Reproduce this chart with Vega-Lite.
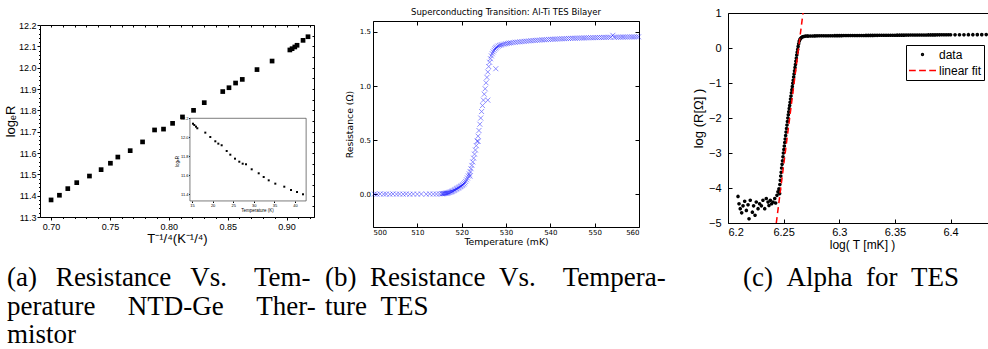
{
 "$schema": "https://vega.github.io/schema/vega-lite/v6.json",
 "padding": {"left": 3, "top": 0, "right": 0, "bottom": 0},
 "background": "white",
 "config": {
  "view": {"stroke": "black", "strokeWidth": 1},
  "axis": {"grid": false, "domain": false, "tickColor": "black", "labelColor": "black", "titleColor": "black", "titleFontWeight": "normal", "labelOverlap": false},
  "title": {"color": "black", "fontWeight": "normal"}
 },
 "datasets": {
  "aMain": [
   {"t14":0.700,"lnR":11.380},{"t14":0.7071,"lnR":11.402},{"t14":0.7142,"lnR":11.433},{"t14":0.7218,"lnR":11.461},
   {"t14":0.7326,"lnR":11.492},{"t14":0.7425,"lnR":11.522},{"t14":0.7504,"lnR":11.552},{"t14":0.7567,"lnR":11.581},
   {"t14":0.7672,"lnR":11.611},{"t14":0.7777,"lnR":11.652},{"t14":0.7879,"lnR":11.708},{"t14":0.7955,"lnR":11.712},
   {"t14":0.8032,"lnR":11.739},{"t14":0.8116,"lnR":11.769},{"t14":0.8210,"lnR":11.800},{"t14":0.8301,"lnR":11.836},
   {"t14":0.8458,"lnR":11.888},{"t14":0.8511,"lnR":11.906},{"t14":0.8567,"lnR":11.928},{"t14":0.8624,"lnR":11.945},
   {"t14":0.8749,"lnR":11.991},{"t14":0.8877,"lnR":12.031},{"t14":0.9028,"lnR":12.083},{"t14":0.9047,"lnR":12.089},
   {"t14":0.9070,"lnR":12.097},{"t14":0.9089,"lnR":12.105},{"t14":0.9140,"lnR":12.128},{"t14":0.9182,"lnR":12.145}
  ],
  "aInset": [
   {"T":15.24,"lnR":12.143},{"T":15.56,"lnR":12.129},{"T":15.97,"lnR":12.112},{"T":16.29,"lnR":12.095},
   {"T":18.23,"lnR":12.049},{"T":19.44,"lnR":12.003},{"T":20.66,"lnR":11.958},{"T":21.39,"lnR":11.933},
   {"T":22.20,"lnR":11.916},{"T":23.42,"lnR":11.856},{"T":24.30,"lnR":11.817},{"T":25.44,"lnR":11.775},
   {"T":26.48,"lnR":11.743},{"T":27.30,"lnR":11.722},{"T":28.11,"lnR":11.716},{"T":29.49,"lnR":11.663},
   {"T":31.19,"lnR":11.621},{"T":32.40,"lnR":11.582},{"T":33.62,"lnR":11.547},{"T":35.22,"lnR":11.512},
   {"T":37.40,"lnR":11.480},{"T":39.03,"lnR":11.445},{"T":40.49,"lnR":11.424},{"T":41.94,"lnR":11.400}
  ],
  "b": [
   {"T":500.3,"R":0.004},{"T":500.9,"R":0.002},{"T":501.6,"R":0.005},{"T":502.4,"R":0.003},{"T":503.0,"R":0.004},
   {"T":503.8,"R":0.002},{"T":504.5,"R":0.005},{"T":505.3,"R":0.003},{"T":506.0,"R":0.004},{"T":506.8,"R":0.003},
   {"T":507.5,"R":0.005},{"T":508.3,"R":0.002},{"T":509.1,"R":0.004},{"T":510.0,"R":0.003},{"T":510.9,"R":0.004},
   {"T":512.0,"R":0.003},{"T":512.8,"R":0.005},{"T":513.6,"R":0.004},{"T":514.3,"R":0.004},{"T":515.0,"R":0.005},
   {"T":515.5,"R":0.006},{"T":515.7,"R":0.007},{"T":515.9,"R":0.008},{"T":516.1,"R":0.009},{"T":516.3,"R":0.010},
   {"T":516.5,"R":0.012},{"T":516.7,"R":0.013},{"T":516.9,"R":0.015},{"T":517.1,"R":0.018},{"T":517.3,"R":0.020},
   {"T":517.5,"R":0.023},{"T":517.7,"R":0.026},{"T":517.9,"R":0.030},{"T":518.1,"R":0.034},{"T":518.3,"R":0.038},
   {"T":518.5,"R":0.043},{"T":518.7,"R":0.048},{"T":518.9,"R":0.053},{"T":519.1,"R":0.058},{"T":519.3,"R":0.062},
   {"T":519.5,"R":0.068},{"T":519.7,"R":0.073},{"T":519.9,"R":0.078},{"T":520.1,"R":0.084},{"T":520.3,"R":0.090},
   {"T":520.5,"R":0.098},{"T":520.7,"R":0.108},{"T":520.9,"R":0.120},{"T":521.1,"R":0.135},{"T":521.3,"R":0.152},
   {"T":521.5,"R":0.170},{"T":521.7,"R":0.190},{"T":521.9,"R":0.212},{"T":522.1,"R":0.238},{"T":522.3,"R":0.268},
   {"T":522.5,"R":0.300},{"T":522.7,"R":0.335},{"T":522.9,"R":0.372},{"T":523.1,"R":0.410},{"T":523.3,"R":0.450},
   {"T":523.5,"R":0.492},{"T":523.7,"R":0.538},{"T":523.9,"R":0.590},{"T":524.1,"R":0.648},{"T":524.3,"R":0.705},
   {"T":524.5,"R":0.765},{"T":524.7,"R":0.820},{"T":524.9,"R":0.870},{"T":525.1,"R":0.925},{"T":525.3,"R":0.975},
   {"T":525.5,"R":1.030},{"T":525.7,"R":1.080},{"T":525.9,"R":1.130},{"T":526.1,"R":1.180},{"T":526.3,"R":1.220},
   {"T":526.5,"R":1.252},{"T":526.7,"R":1.278},{"T":526.9,"R":1.298},{"T":527.1,"R":1.315},{"T":527.3,"R":1.330},
   {"T":527.5,"R":1.343},{"T":527.7,"R":1.352},{"T":527.9,"R":1.360},{"T":528.2,"R":1.368},{"T":528.5,"R":1.374},
   {"T":528.8,"R":1.378},{"T":529.1,"R":1.382},{"T":529.5,"R":1.386},{"T":529.9,"R":1.390},{"T":530.3,"R":1.393},
   {"T":530.7,"R":1.396},{"T":531.1,"R":1.399},{"T":531.6,"R":1.401},{"T":532.1,"R":1.404},{"T":532.6,"R":1.406},
   {"T":533.1,"R":1.408},{"T":533.6,"R":1.410},{"T":534.1,"R":1.412},{"T":534.6,"R":1.414},{"T":535.1,"R":1.416},
   {"T":535.6,"R":1.418},{"T":536.1,"R":1.420},{"T":536.6,"R":1.421},{"T":537.1,"R":1.423},{"T":537.6,"R":1.424},
   {"T":538.1,"R":1.426},{"T":538.6,"R":1.427},{"T":539.1,"R":1.428},{"T":539.6,"R":1.430},{"T":540.1,"R":1.431},
   {"T":540.6,"R":1.432},{"T":541.1,"R":1.433},{"T":541.6,"R":1.434},{"T":542.1,"R":1.435},{"T":542.6,"R":1.436},
   {"T":543.1,"R":1.437},{"T":543.6,"R":1.438},{"T":544.1,"R":1.439},{"T":544.6,"R":1.440},{"T":545.1,"R":1.441},
   {"T":545.6,"R":1.441},{"T":546.1,"R":1.442},{"T":546.6,"R":1.443},{"T":547.1,"R":1.443},{"T":547.6,"R":1.444},
   {"T":548.1,"R":1.445},{"T":548.6,"R":1.445},{"T":549.1,"R":1.446},{"T":549.6,"R":1.446},{"T":550.1,"R":1.447},
   {"T":550.6,"R":1.447},{"T":551.1,"R":1.448},{"T":551.6,"R":1.448},{"T":552.1,"R":1.449},{"T":552.6,"R":1.449},
   {"T":553.1,"R":1.450},{"T":553.6,"R":1.450},{"T":554.1,"R":1.468},{"T":554.4,"R":1.450},{"T":554.9,"R":1.451},
   {"T":555.4,"R":1.451},{"T":555.9,"R":1.451},{"T":556.4,"R":1.452},{"T":556.9,"R":1.452},{"T":557.4,"R":1.452},
   {"T":557.9,"R":1.453},{"T":558.4,"R":1.453},{"T":558.9,"R":1.453},{"T":559.4,"R":1.454},{"T":559.9,"R":1.454},
   {"T":527.7,"R":1.16},{"T":525.9,"R":0.87},{"T":523.7,"R":0.49},{"T":521.9,"R":0.17}
  ],
  "c": [
   {"lT":6.2090,"lR":-4.24},{"lT":6.2099,"lR":-4.45},{"lT":6.2110,"lR":-4.59},{"lT":6.2123,"lR":-4.71},{"lT":6.2135,"lR":-4.51},
   {"lT":6.2150,"lR":-4.38},{"lT":6.2165,"lR":-4.64},{"lT":6.2180,"lR":-4.48},{"lT":6.2189,"lR":-4.88},{"lT":6.2200,"lR":-4.35},
   {"lT":6.2219,"lR":-4.69},{"lT":6.2230,"lR":-4.51},{"lT":6.2243,"lR":-4.78},{"lT":6.2254,"lR":-4.40},{"lT":6.2270,"lR":-4.59},
   {"lT":6.2284,"lR":-4.45},{"lT":6.2300,"lR":-4.51},{"lT":6.2314,"lR":-4.35},{"lT":6.2330,"lR":-4.59},{"lT":6.2344,"lR":-4.30},
   {"lT":6.2360,"lR":-4.40},{"lT":6.2368,"lR":-4.50},{"lT":6.2380,"lR":-4.35},{"lT":6.2392,"lR":-4.45},{"lT":6.2404,"lR":-4.40},
   {"lT":6.2420,"lR":-4.30},{"lT":6.2428,"lR":-4.43},{"lT":6.2440,"lR":-4.21},{"lT":6.2449,"lR":-4.11},{"lT":6.2458,"lR":-4.02},
   {"lT":6.2464,"lR":-4.16},
   {"lT":6.2462,"lR":-4.05},{"lT":6.2466,"lR":-3.90},{"lT":6.2470,"lR":-3.78},{"lT":6.2474,"lR":-3.66},{"lT":6.2478,"lR":-3.55},
   {"lT":6.2482,"lR":-3.43},{"lT":6.2486,"lR":-3.32},{"lT":6.2490,"lR":-3.22},{"lT":6.2494,"lR":-3.11},{"lT":6.2498,"lR":-3.00},
   {"lT":6.2502,"lR":-2.90},{"lT":6.2506,"lR":-2.80},{"lT":6.2510,"lR":-2.70},{"lT":6.2514,"lR":-2.60},{"lT":6.2518,"lR":-2.50},
   {"lT":6.2522,"lR":-2.40},{"lT":6.2526,"lR":-2.30},{"lT":6.2530,"lR":-2.20},{"lT":6.2534,"lR":-2.10},{"lT":6.2538,"lR":-2.00},
   {"lT":6.2542,"lR":-1.91},{"lT":6.2546,"lR":-1.82},{"lT":6.2550,"lR":-1.73},{"lT":6.2554,"lR":-1.64},{"lT":6.2558,"lR":-1.55},
   {"lT":6.2562,"lR":-1.46},{"lT":6.2566,"lR":-1.37},{"lT":6.2570,"lR":-1.28},{"lT":6.2574,"lR":-1.19},{"lT":6.2578,"lR":-1.10},
   {"lT":6.2582,"lR":-1.01},{"lT":6.2586,"lR":-0.92},{"lT":6.2590,"lR":-0.83},{"lT":6.2594,"lR":-0.74},{"lT":6.2598,"lR":-0.65},
   {"lT":6.2602,"lR":-0.56},{"lT":6.2606,"lR":-0.47},{"lT":6.2610,"lR":-0.38},{"lT":6.2614,"lR":-0.29},{"lT":6.2618,"lR":-0.20},
   {"lT":6.2622,"lR":-0.12},{"lT":6.2626,"lR":-0.04},{"lT":6.2630,"lR":0.04},{"lT":6.2635,"lR":0.12},{"lT":6.2640,"lR":0.19},
   {"lT":6.2646,"lR":0.24},{"lT":6.2652,"lR":0.27},{"lT":6.2660,"lR":0.30},{"lT":6.2670,"lR":0.32},{"lT":6.2680,"lR":0.33},
   {"lT":6.2695,"lR":0.34},{"lT":6.2710,"lR":0.345},
   {"lT":6.272,"lR":0.340},{"lT":6.274,"lR":0.343},{"lT":6.276,"lR":0.345},{"lT":6.278,"lR":0.346},{"lT":6.280,"lR":0.347},
   {"lT":6.282,"lR":0.348},{"lT":6.284,"lR":0.349},{"lT":6.286,"lR":0.350},{"lT":6.288,"lR":0.350},{"lT":6.290,"lR":0.351},
   {"lT":6.292,"lR":0.352},{"lT":6.294,"lR":0.352},{"lT":6.296,"lR":0.353},{"lT":6.298,"lR":0.353},{"lT":6.300,"lR":0.354},
   {"lT":6.302,"lR":0.354},{"lT":6.304,"lR":0.355},{"lT":6.306,"lR":0.355},{"lT":6.308,"lR":0.356},{"lT":6.310,"lR":0.356},
   {"lT":6.312,"lR":0.357},{"lT":6.314,"lR":0.357},{"lT":6.316,"lR":0.358},{"lT":6.318,"lR":0.358},{"lT":6.320,"lR":0.359},
   {"lT":6.322,"lR":0.359},{"lT":6.324,"lR":0.360},{"lT":6.326,"lR":0.360},{"lT":6.328,"lR":0.361},{"lT":6.330,"lR":0.361},
   {"lT":6.332,"lR":0.362},{"lT":6.334,"lR":0.362},{"lT":6.336,"lR":0.363},{"lT":6.338,"lR":0.363},{"lT":6.340,"lR":0.364},
   {"lT":6.342,"lR":0.364},{"lT":6.344,"lR":0.365},{"lT":6.346,"lR":0.365},{"lT":6.348,"lR":0.366},{"lT":6.350,"lR":0.366},
   {"lT":6.352,"lR":0.367},{"lT":6.354,"lR":0.367},{"lT":6.356,"lR":0.368},{"lT":6.358,"lR":0.368},{"lT":6.360,"lR":0.369},
   {"lT":6.362,"lR":0.369},{"lT":6.364,"lR":0.370},{"lT":6.366,"lR":0.370},{"lT":6.368,"lR":0.371},{"lT":6.370,"lR":0.371},
   {"lT":6.372,"lR":0.372},{"lT":6.374,"lR":0.372},{"lT":6.376,"lR":0.373},{"lT":6.378,"lR":0.373},{"lT":6.380,"lR":0.374},
   {"lT":6.382,"lR":0.374},{"lT":6.384,"lR":0.375},{"lT":6.386,"lR":0.375},{"lT":6.388,"lR":0.376},{"lT":6.390,"lR":0.376},
   {"lT":6.392,"lR":0.377},{"lT":6.394,"lR":0.377},{"lT":6.396,"lR":0.378},{"lT":6.398,"lR":0.378},{"lT":6.400,"lR":0.379},
   {"lT":6.404,"lR":0.379},{"lT":6.408,"lR":0.380},{"lT":6.412,"lR":0.380},{"lT":6.416,"lR":0.381},{"lT":6.420,"lR":0.381},
   {"lT":6.424,"lR":0.382},{"lT":6.428,"lR":0.382},{"lT":6.432,"lR":0.383},{"lT":6.435,"lR":0.383}
  ],
  "cfit": [{"lT":6.2434,"lR":-5},{"lT":6.2674,"lR":1}]
 },
 "vconcat": [
  {
   "hconcat": [
    {
     "hconcat": [
      {
       "vconcat": [
        {"width": 1, "height": 19.5, "view": {"stroke": null}, "data": {"values": [{}]}, "mark": {"type": "point", "opacity": 0}},
        {
         "width": 274, "height": 192,
         "layer": [
          {
           "data": {"name": "aMain"},
           "mark": {"type": "square", "size": 22, "color": "black", "opacity": 1},
           "encoding": {
            "x": {"field": "t14", "type": "quantitative", "scale": {"domain": [0.6906, 0.9233], "nice": false, "zero": false},
                  "axis": {"orient": "bottom", "values": [0.7, 0.75, 0.8, 0.85, 0.9], "format": ".2f", "title": "T⁻¹/⁴(K⁻¹/⁴)",
                           "labelFont": "Liberation Sans", "labelFontSize": 9, "tickSize": 3, "labelPadding": 2,
                           "titleFont": "Liberation Sans", "titleFontSize": 13, "titlePadding": 1}},
            "y": {"field": "lnR", "type": "quantitative", "scale": {"domain": [11.3, 12.2], "nice": false, "zero": false},
                  "axis": {"orient": "left", "values": [11.3, 11.4, 11.5, 11.6, 11.7, 11.8, 11.9, 12.0, 12.1, 12.2], "format": ".1f", "title": "logₑR",
                           "labelFont": "Liberation Sans", "labelFontSize": 9, "tickSize": 3, "labelPadding": 1,
                           "titleFont": "Liberation Sans", "titleFontSize": 13, "titlePadding": 1}}
           }
          },
          {
           "data": {"name": "aMain"},
           "mark": {"type": "point", "opacity": 0},
           "encoding": {
            "x": {"field": "t14", "type": "quantitative", "scale": {"domain": [0.6906, 0.9233], "nice": false, "zero": false},
                  "axis": {"orient": "top", "values": [0.7, 0.71, 0.72, 0.73, 0.74, 0.75, 0.76, 0.77, 0.78, 0.79, 0.8, 0.81, 0.82, 0.83, 0.84, 0.85, 0.86, 0.87, 0.88, 0.89, 0.9, 0.91, 0.92], "labels": false, "title": null, "tickSize": -2}},
            "y": {"field": "lnR", "type": "quantitative", "scale": {"domain": [11.3, 12.2], "nice": false, "zero": false},
                  "axis": {"orient": "right", "values": [11.3, 11.35, 11.4, 11.45, 11.5, 11.55, 11.6, 11.65, 11.7, 11.75, 11.8, 11.85, 11.9, 11.95, 12.0, 12.05, 12.1, 12.15, 12.2], "labels": false, "title": null, "tickSize": -2}}
           }
          },
          {
           "data": {"name": "aMain"},
           "mark": {"type": "point", "opacity": 0},
           "encoding": {
            "x": {"field": "t14", "type": "quantitative", "scale": {"domain": [0.6906, 0.9233], "nice": false, "zero": false},
                  "axis": {"orient": "bottom", "values": [0.71, 0.72, 0.73, 0.74, 0.76, 0.77, 0.78, 0.79, 0.81, 0.82, 0.83, 0.84, 0.86, 0.87, 0.88, 0.89, 0.91, 0.92], "labels": false, "title": null, "tickSize": 1.5}},
            "y": {"field": "lnR", "type": "quantitative", "scale": {"domain": [11.3, 12.2], "nice": false, "zero": false},
                  "axis": {"orient": "left", "values": [11.32, 11.34, 11.36, 11.38, 11.42, 11.44, 11.46, 11.48, 11.52, 11.54, 11.56, 11.58, 11.62, 11.64, 11.66, 11.68, 11.72, 11.74, 11.76, 11.78, 11.82, 11.84, 11.86, 11.88, 11.92, 11.94, 11.96, 11.98, 12.02, 12.04, 12.06, 12.08, 12.12, 12.14, 12.16, 12.18], "labels": false, "title": null, "tickSize": 1.5}}
           }
          },
          {
           "layer": [
            {
             "data": {"values": [{}]},
             "mark": {"type": "rect", "fill": "white", "stroke": "#444444", "strokeWidth": 0.7},
             "encoding": {
              "x": {"datum": 14.5, "type": "quantitative", "scale": {"domain": [-21.89, 44.61], "nice": false, "zero": false},
                    "axis": {"orient": "bottom", "offset": -16, "values": [15, 20, 25, 30, 35, 40], "format": "d", "title": "Temperature (K)", "titleX": 217,
                             "labelFont": "Liberation Sans", "labelFontSize": 4, "tickSize": 1.5, "labelPadding": 0.5,
                             "titleFont": "Liberation Sans", "titleFontSize": 4.5, "titlePadding": 0.5}},
              "x2": {"datum": 42.7},
              "y": {"datum": 11.33, "type": "quantitative", "scale": {"domain": [11.161, 13.182], "nice": false, "zero": false},
                    "axis": {"orient": "left", "offset": -150, "values": [11.4, 11.6, 11.8, 12.0, 12.2], "format": ".1f", "title": "logₑR", "titleY": 136,
                             "labelFont": "Liberation Sans", "labelFontSize": 4, "tickSize": 1.5, "labelPadding": 0.5,
                             "titleFont": "Liberation Sans", "titleFontSize": 4.5, "titlePadding": 1}},
              "y2": {"datum": 12.2}
             }
            },
            {
             "data": {"name": "aInset"},
             "mark": {"type": "square", "size": 4, "color": "black", "opacity": 1},
             "encoding": {
              "x": {"field": "T", "type": "quantitative", "scale": {"domain": [-21.89, 44.61], "nice": false, "zero": false}},
              "y": {"field": "lnR", "type": "quantitative", "scale": {"domain": [11.161, 13.182], "nice": false, "zero": false}}
             }
            }
           ]
          }
         ],
         "resolve": {"scale": {"x": "independent", "y": "independent"}}
        }
       ],
       "spacing": 0
      },
      {
       "vconcat": [
        {"width": 1, "height": 6.3, "view": {"stroke": null}, "data": {"values": [{}]}, "mark": {"type": "point", "opacity": 0}},
        {
         "width": 266, "height": 206,
         "title": {"text": "Superconducting Transition: Al-Ti TES Bilayer", "font": "DejaVu Sans", "fontSize": 8.5, "offset": 4, "anchor": "middle"},
         "data": {"name": "b"},
         "layer": [
          {
           "mark": {"type": "point", "shape": "M-1,-1L1,1M-1,1L1,-1", "size": 25, "filled": false, "stroke": "#0000ff", "strokeWidth": 0.8, "opacity": 0.55},
           "encoding": {
            "x": {"field": "T", "type": "quantitative", "scale": {"domain": [500, 560], "nice": false, "zero": false},
                  "axis": {"orient": "bottom", "values": [500, 510, 520, 530, 540, 550, 560], "title": "Temperature (mK)",
                           "labelFont": "DejaVu Sans", "labelFontSize": 7, "tickSize": -4, "labelPadding": 5.5,
                           "titleFont": "DejaVu Sans", "titleFontSize": 9.3, "titlePadding": 2}},
            "y": {"field": "R", "type": "quantitative", "scale": {"domain": [-0.3, 1.6], "nice": false, "zero": false},
                  "axis": {"orient": "left", "values": [0, 0.5, 1, 1.5], "format": ".1f", "title": "Resistance (Ω)",
                           "labelFont": "DejaVu Sans", "labelFontSize": 7, "tickSize": -4, "labelPadding": 6.5,
                           "titleFont": "DejaVu Sans", "titleFontSize": 9.3, "titlePadding": 4.5}}
           }
          },
          {
           "mark": {"type": "point", "opacity": 0},
           "encoding": {
            "x": {"field": "T", "type": "quantitative", "scale": {"domain": [500, 560], "nice": false, "zero": false},
                  "axis": {"orient": "top", "values": [500, 510, 520, 530, 540, 550, 560], "labels": false, "title": null, "tickSize": -4}},
            "y": {"field": "R", "type": "quantitative", "scale": {"domain": [-0.3, 1.6], "nice": false, "zero": false},
                  "axis": {"orient": "right", "values": [0, 0.5, 1, 1.5], "labels": false, "title": null, "tickSize": -4}}
           }
          }
         ],
         "resolve": {"scale": {"x": "independent", "y": "independent"}}
        }
       ],
       "spacing": 0
      }
     ],
     "spacing": 30
    },
    {
     "vconcat": [
      {"width": 1, "height": 5.5, "view": {"stroke": null}, "data": {"values": [{}]}, "mark": {"type": "point", "opacity": 0}},
      {
       "width": 268, "height": 210,
       "layer": [
        {
         "data": {"name": "c"},
         "mark": {"type": "point", "size": 729, "filled": false, "strokeWidth": 1.7, "opacity": 1},
         "encoding": {
          "x": {"field": "lT", "type": "quantitative", "scale": {"domain": [6.2, 6.4408], "nice": false, "zero": false},
                "axis": {"values": [6.2, 6.25, 6.3, 6.35, 6.4], "tickCount": 5, "format": "~g", "title": "log( T [mK] )", "labelOverlap": false,
                         "labelFont": "Liberation Sans", "labelFontSize": 11, "tickSize": -4, "labelPadding": 7.5,
                         "titleFont": "Liberation Sans", "titleFontSize": 12, "titlePadding": 1.5}},
          "y": {"field": "lR", "type": "quantitative", "scale": {"domain": [-5, 1], "nice": false, "zero": false},
                "axis": {"values": [-5, -4, -3, -2, -1, 0, 1], "tickCount": 7, "format": "d", "title": "log (R[Ω] )", "labelOverlap": false,
                         "labelFont": "Liberation Sans", "labelFontSize": 11, "tickSize": -4, "labelPadding": 11,
                         "titleFont": "Liberation Sans", "titleFontSize": 13, "titlePadding": 3}},
          "color": {"datum": "data", "type": "nominal", "scale": {"domain": ["data", "linear fit"], "range": ["black", "red"]},
                    "legend": {"orient": "none", "legendX": 178, "legendY": 32, "title": null, "strokeColor": "black", "fillColor": "white",
                               "padding": 2, "cornerRadius": 0, "labelFont": "Liberation Sans", "labelFontSize": 12, "labelColor": "black",
                               "clipHeight": 15, "rowPadding": 1, "symbolSize": 729, "symbolStrokeWidth": 1.5, "labelOffset": 2, "symbolOffset": 0}},
          "shape": {"datum": "data", "type": "nominal", "scale": {"domain": ["data", "linear fit"], "range": ["M-0.07,0A0.07,0.07,0,1,1,0.07,0A0.07,0.07,0,1,1,-0.07,0Z", "M-1,0H-0.5M-0.25,0H0.25M0.5,0H1"]},
                    "legend": {"orient": "none", "legendX": 178, "legendY": 32, "title": null, "strokeColor": "black", "fillColor": "white",
                               "padding": 2, "cornerRadius": 0, "labelFont": "Liberation Sans", "labelFontSize": 12, "labelColor": "black",
                               "clipHeight": 15, "rowPadding": 1, "symbolSize": 729, "symbolStrokeWidth": 1.5, "labelOffset": 2, "symbolOffset": 0}}
         }
        },
        {
         "data": {"name": "cfit"},
         "mark": {"type": "line", "color": "#ff0000", "strokeDash": [6, 4], "strokeWidth": 1.5, "clip": true},
         "encoding": {
          "x": {"field": "lT", "type": "quantitative"},
          "y": {"field": "lR", "type": "quantitative"}
         }
        }
       ]
      }
     ],
     "spacing": 0,
     "resolve": {"legend": {"color": "independent", "shape": "independent"}}
    }
   ],
   "spacing": 47,
   "resolve": {"legend": {"color": "independent", "shape": "independent"}}
  },
  {
   "hconcat": [
    {
     "width": 285, "height": 1, "view": {"stroke": null},
     "data": {"values": [{}]},
     "mark": {"type": "point", "opacity": 0},
     "title": {"text": ["(a)\u2002\u2009Resistance\u2002\u2009Vs.\u2002\u2002Tem-", "perature\u2002\u2002\u2009NTD-Ge\u2002\u2002\u2009Ther-", "mistor"],
               "orient": "bottom", "anchor": "start", "frame": "group", "dx": -33, "offset": 5, "baseline": "top",
               "font": "Liberation Serif", "fontSize": 27, "lineHeight": 28.5}
    },
    {
     "width": 418, "height": 1, "view": {"stroke": null},
     "data": {"values": [{}]},
     "mark": {"type": "point", "opacity": 0},
     "title": {"text": ["(b)\u2002Resistance\u2002Vs.\u2002\u2002Tempera-", "ture\u2002TES"],
               "orient": "bottom", "anchor": "start", "frame": "group", "offset": 5, "baseline": "top",
               "font": "Liberation Serif", "fontSize": 27, "lineHeight": 28.5}
    },
    {
     "width": 200, "height": 1, "view": {"stroke": null},
     "data": {"values": [{}]},
     "mark": {"type": "point", "opacity": 0},
     "title": {"text": "(c)\u2002Alpha\u2002for\u2002TES",
               "orient": "bottom", "anchor": "start", "frame": "group", "offset": 5, "baseline": "top",
               "font": "Liberation Serif", "fontSize": 27, "lineHeight": 28.5}
    }
   ],
   "spacing": 0
  }
 ],
 "spacing": 3,
 "resolve": {"legend": {"color": "independent", "shape": "independent"}}
}
